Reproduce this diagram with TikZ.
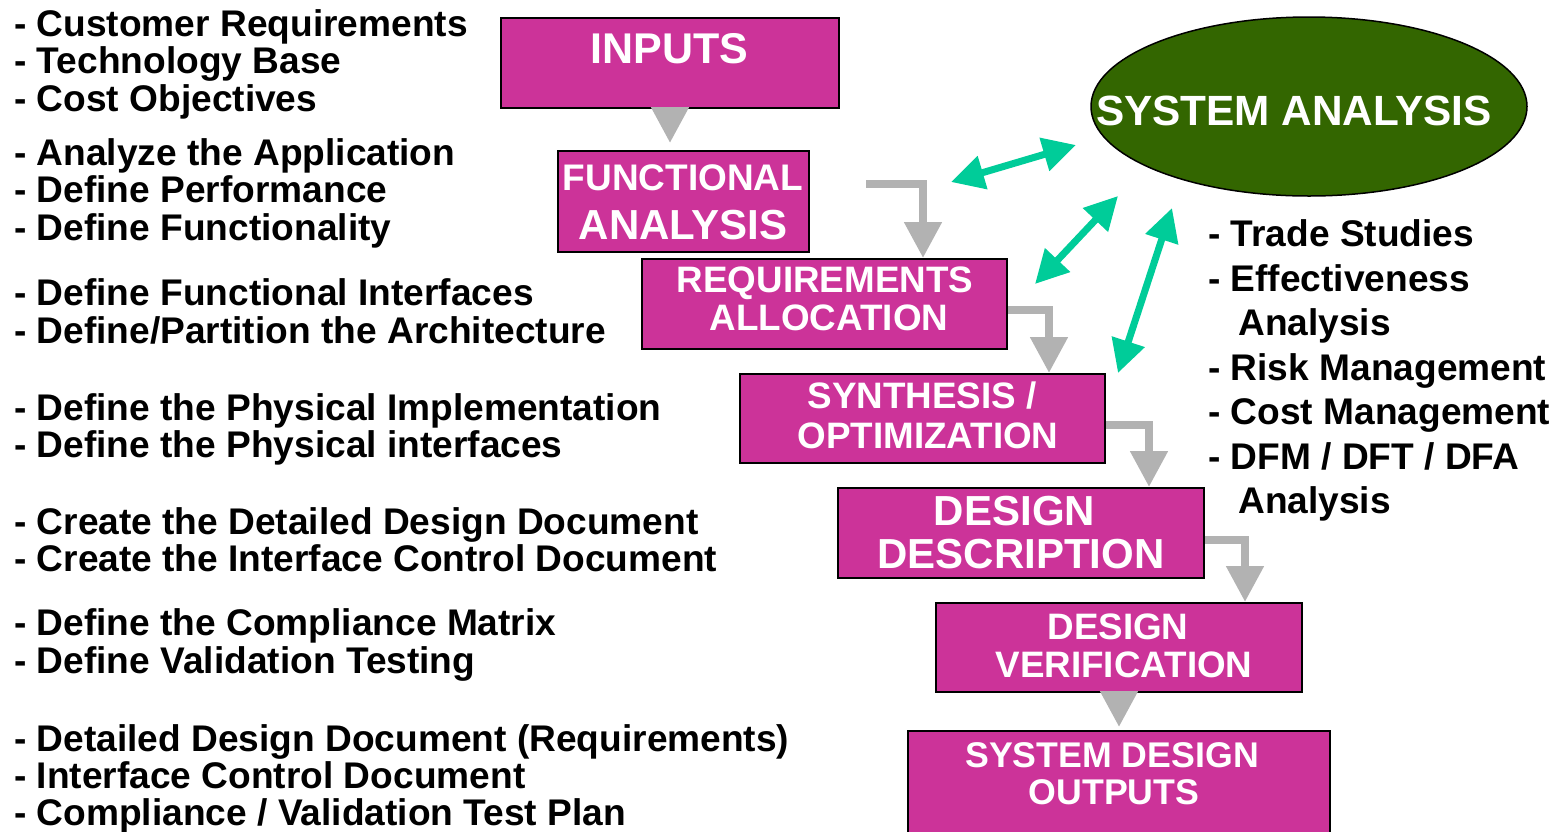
\documentclass[tikz,border=0pt]{standalone}
\usepackage{fontspec}
\setmainfont{Liberation Sans}
\usetikzlibrary{arrows.meta,shapes.geometric,calc}
\definecolor{mag}{HTML}{CC3399}
\definecolor{dgreen}{HTML}{336600}
\definecolor{tgreen}{HTML}{00CC99}
\definecolor{agray}{HTML}{B2B2B2}
\newcommand{\fsz}[1]{\fontsize{#1}{#1}\selectfont\bfseries}
\tikzset{
  stagebox/.style={draw=black, line width=2pt, fill=mag, rectangle, inner sep=0pt},
  btext/.style={text=white, anchor=base, inner sep=0pt},
  ltext/.style={text=black, anchor=base west, inner sep=0pt, font=\fsz{37.1}},
  garrow/.style={draw=agray, line width=8pt, -{Triangle[width=36pt,length=36pt]}},
  tarrow/.style={draw=tgreen, line width=7pt, {Triangle[width=33pt,length=33pt]}-{Triangle[width=33pt,length=33pt]}}
}
\begin{document}
\begin{tikzpicture}[x=1pt,y=-1pt]
\useasboundingbox (0,0) rectangle (1560,831);
\clip (0,0) rectangle (1560,831);
% boxes
\node[stagebox, minimum width=338pt, minimum height=90pt] (inputs) at (670,63) {};
\node[stagebox, minimum width=251pt, minimum height=101pt] (fa) at (683.5,201.5) {};
\node[stagebox, minimum width=365pt, minimum height=90pt] (ra) at (824.5,304) {};
\node[stagebox, minimum width=365pt, minimum height=89pt] (syn) at (922.5,418.5) {};
\node[stagebox, minimum width=366pt, minimum height=90pt] (dd) at (1021,533) {};
\node[stagebox, minimum width=366pt, minimum height=89pt] (dv) at (1119,647.5) {};
\node[stagebox, minimum width=422pt, minimum height=120pt] (sdo) at (1119,791) {};
\node[draw=black, line width=1.5pt, fill=dgreen, ellipse, minimum width=436pt, minimum height=179pt, inner sep=0pt] (sa) at (1309,106.5) {};
% box texts
\node[btext, font=\fsz{43}] (tinputs) at (669.5,63) {INPUTS};
\node[btext, font=\fsz{37}] (tfa1) at (683,190) {FUNCTIONAL};
\node[btext, font=\fsz{42}] (tfa2) at (683,239) {ANALYSIS};
\node[btext, font=\fsz{36.8}] (tra1) at (825,292) {REQUIREMENTS};
\node[btext, font=\fsz{36.8}] (tra2) at (829,330) {ALLOCATION};
\node[btext, font=\fsz{36.8}] (tsyn1) at (922,408) {SYNTHESIS /};
\node[btext, font=\fsz{36.8}] (tsyn2) at (928,448) {OPTIMIZATION};
\node[btext, font=\fsz{42}] (tdd1) at (1014.5,525) {DESIGN};
\node[btext, font=\fsz{42}] (tdd2) at (1021,568) {DESCRIPTION};
\node[btext, font=\fsz{36.8}] (tdv1) at (1118,639) {DESIGN};
\node[btext, font=\fsz{36.8}] (tdv2) at (1124,677) {VERIFICATION};
\node[btext, font=\fsz{35.7}] (tsdo1) at (1112,767) {SYSTEM DESIGN};
\node[btext, font=\fsz{35.7}] (tsdo2) at (1114,804) {OUTPUTS};
\node[btext, font=\fsz{42.3}] (tsa) at (1294,125) {SYSTEM ANALYSIS};
% gray arrows
\draw[garrow] (inputs.south) -- ([yshift=7pt]inputs.south |- fa.north);
\coordinate (g1s) at (866,184);
\draw[garrow] (g1s) -| ([xshift=-85pt]ra.north east);
\draw[garrow] ([yshift=-6pt]ra.east) -| ([xshift=-57pt]syn.north east);
\draw[garrow] ([yshift=-6.5pt]syn.east) -| ([xshift=-56pt]dd.north east);
\draw[garrow] ([yshift=-7pt]dd.east) -| ([xshift=-58pt]dv.north east);
\draw[garrow] (dv.south) -- ([yshift=3pt]dv.south |- sdo.north);
% green arrows
\coordinate (a1s) at (951,182); \coordinate (a1e) at (1076,145);
\coordinate (a2s) at (1035,284); \coordinate (a2e) at (1118,196);
\coordinate (a3s) at (1118,373); \coordinate (a3e) at (1172,208);
\draw[tarrow] (a1s) -- (a1e);
\draw[tarrow] (a2s) -- (a2e);
\draw[tarrow] (a3s) -- (a3e);
% left texts
\node[ltext] (l1) at (14,36) {- Customer Requirements};
\node[ltext] (l2) at (14,73.5) {- Technology Base};
\node[ltext] (l3) at (14,111) {- Cost Objectives};
\node[ltext] (l4) at (14,165) {- Analyze the Application};
\node[ltext] (l5) at (14,202) {- Define Performance};
\node[ltext] (l6) at (14,240) {- Define Functionality};
\node[ltext] (l7) at (14,305) {- Define Functional Interfaces};
\node[ltext] (l8) at (14,343) {- Define/Partition the Architecture};
\node[ltext] (l9) at (14,420) {- Define the Physical Implementation};
\node[ltext] (l10) at (14,457) {- Define the Physical interfaces};
\node[ltext] (l11) at (14,534) {- Create the Detailed Design Document};
\node[ltext] (l12) at (14,571) {- Create the Interface Control Document};
\node[ltext] (l13) at (14,635) {- Define the Compliance Matrix};
\node[ltext] (l14) at (14,673) {- Define Validation Testing};
\node[ltext] (l15) at (14,751) {- Detailed Design Document (Requirements)};
\node[ltext] (l16) at (14,788) {- Interface Control Document};
\node[ltext] (l17) at (14,825) {- Compliance / Validation Test Plan};
% right texts
\node[ltext] (r1) at (1208,246) {- Trade Studies};
\node[ltext] (r2) at (1208,291) {- Effectiveness};
\node[ltext] (r3) at (1238,335) {Analysis};
\node[ltext] (r4) at (1208,380) {- Risk Management};
\node[ltext] (r5) at (1208,424) {- Cost Management};
\node[ltext] (r6) at (1208,469) {- DFM / DFT / DFA};
\node[ltext] (r7) at (1238,513) {Analysis};
\end{tikzpicture}
\end{document}
